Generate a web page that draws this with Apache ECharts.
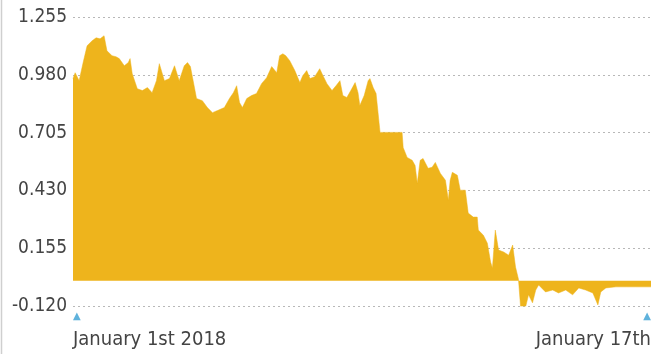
<!DOCTYPE html>
<html>
<head>
<meta charset="utf-8">
<script src="https://cdn.jsdelivr.net/npm/echarts@6/dist/echarts.min.js"></script>
<style>
	html,body{margin:0;padding:0;background:#fff;}
	#chart{width:664px;height:354px;}
</style>
</head>
<body>
<div id="chart"></div>
<script>
	// day of January 2018 (fractional) for each reading
	var days = [
		1.00,1.06,1.17,1.28,1.39,1.53,1.64,1.75,1.86,1.94,
		2.08,2.19,2.28,2.42,2.53,2.58,2.64,2.78,2.92,3.06,
		3.19,3.31,3.39,3.53,3.67,3.81,3.94,4.08,4.17,4.25,
		4.31,4.42,4.58,4.72,4.86,5.00,5.19,5.33,5.44,5.53,
		5.61,5.69,5.81,5.94,6.08,6.22,6.36,6.50,6.64,6.72,
		6.81,6.89,7.00,7.14,7.28,7.36,7.47,7.56,7.69,7.83,
		7.92,8.03,8.17,8.28,8.39,8.47,8.58,8.69,8.81,8.89,
		8.94,9.06,9.17,9.22,9.31,9.39,9.44,9.50,10.11,10.14,
		10.25,10.39,10.47,10.53,10.61,10.69,10.83,10.94,11.03,11.17,
		11.31,11.39,11.44,11.50,11.64,11.72,11.86,11.94,12.08,12.19,
		12.22,12.36,12.47,12.56,12.61,12.69,12.78,12.92,13.06,13.17,
		13.25,13.33,13.39,13.53,13.61,13.72,13.81,13.89,14.08,14.28,
		14.44,14.64,14.83,15.00,15.19,15.39,15.53,15.61,15.75,16.03,
		16.31,16.58,17.00
	];
	var values = [
		0.962,0.990,0.952,1.038,1.118,1.142,1.156,1.151,1.166,1.094,
		1.071,1.066,1.057,1.023,1.038,1.057,0.985,0.914,0.905,0.919,
		0.895,0.952,1.033,0.952,0.962,1.023,0.952,1.023,1.038,1.019,
		0.966,0.867,0.857,0.824,0.800,0.810,0.824,0.867,0.895,0.928,
		0.848,0.824,0.867,0.881,0.891,0.938,0.966,1.019,0.990,1.071,
		1.080,1.071,1.047,1.000,0.943,0.976,1.000,0.962,0.971,1.009,
		0.976,0.938,0.905,0.928,0.952,0.881,0.872,0.905,0.943,0.895,
		0.834,0.881,0.952,0.962,0.919,0.891,0.891,0.706,0.706,0.634,
		0.587,0.573,0.549,0.464,0.573,0.582,0.535,0.540,0.563,0.511,
		0.478,0.383,0.478,0.516,0.502,0.431,0.431,0.322,0.303,0.303,
		0.241,0.217,0.179,0.089,0.061,0.241,0.146,0.137,0.122,0.170,
		0.065,0.009,-0.124,-0.124,-0.067,-0.105,-0.044,-0.020,-0.053,-0.044,
		-0.058,-0.044,-0.067,-0.034,-0.044,-0.058,-0.115,-0.053,-0.034,-0.029,
		-0.029,-0.029,-0.029
	];
	var yTicks = [-0.120, 0.155, 0.430, 0.705, 0.980, 1.255];
	var xTicks = [1, 17];
	var xTickLabels = ['January 1st 2018', 'January 17th'];

	var font = '"DejaVu Sans Condensed", Roboto, sans-serif';
	var myChart = echarts.init(document.getElementById('chart'));
	var seriesData = [];
	for (var i = 0; i < days.length; i++) {
		seriesData.push([days[i], values[i]]);
	}
	var option = {
		animation: false,
		grid: {
			left: 73,
			right: 13,
			top: 17,
			bottom: 48
		},
		graphic: [{
			type: 'line',
			shape: {x1: 1.5, y1: 0, x2: 1.5, y2: 354},
			style: {stroke: '#cfcfcf', lineWidth: 1.5}
		}],
		xAxis: {
			type: 'value',
			min: xTicks[0],
			max: xTicks[1],
			interval: xTicks[1] - xTicks[0],
			axisLine: {show: false},
			axisTick: {show: false},
			splitLine: {show: false},
			axisLabel: {
				margin: 4,
				alignMinLabel: 'left',
				alignMaxLabel: 'right',
				formatter: function (v) {
					var txt = v === xTicks[0] ? xTickLabels[0] : xTickLabels[1];
					return '{t|▲}\n{l|' + txt + '}';
				},
				rich: {
					t: {
						color: '#5fb2dc',
						fontSize: 10,
						lineHeight: 12,
						fontFamily: 'DejaVu Sans'
					},
					l: {
						color: '#444',
						fontSize: 20,
						lineHeight: 36,
						fontFamily: font
					}
				}
			}
		},
		yAxis: {
			type: 'value',
			min: yTicks[0],
			max: yTicks[yTicks.length - 1],
			interval: yTicks[1] - yTicks[0],
			axisLine: {show: false},
			axisTick: {show: false},
			axisLabel: {
				margin: 6,
				color: '#444',
				fontSize: 19,
				fontFamily: font,
				padding: [5, 0, 0, 0],
				formatter: function (v) {
					return v.toFixed(3);
				}
			},
			splitLine: {
				lineStyle: {
					color: '#b8b8b8',
					type: [2, 3],
					width: 1
				}
			}
		},
		series: [{
			type: 'line',
			data: seriesData,
			showSymbol: false,
			lineStyle: {width: 0.5, color: '#eeb41c'},
			itemStyle: {color: '#eeb41c'},
			areaStyle: {color: '#eeb41c', opacity: 1}
		}]
	};
	myChart.setOption(option);
</script>
</body>
</html>
